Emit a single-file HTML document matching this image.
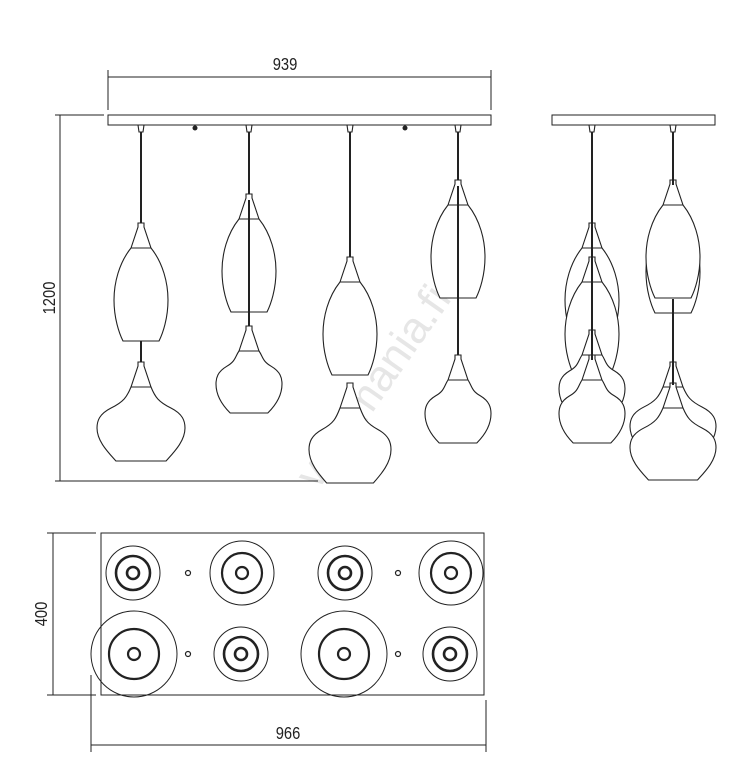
<!DOCTYPE html>
<html><head><meta charset="utf-8"><style>
html,body{margin:0;padding:0;background:#fff;}
svg{display:block;}
text{font-family:"Liberation Sans",sans-serif;fill:#222;}
</style></head><body>
<svg id="s" width="750" height="784" viewBox="0 0 750 784" xmlns="http://www.w3.org/2000/svg">
<text transform="translate(385,395) rotate(-55)" font-size="44" text-anchor="middle" style="fill:#e6e6e6">valomania.fi</text>
<g fill="none" stroke="#222" stroke-width="1">
<line x1="108" y1="77" x2="491" y2="77"/>
<line x1="108" y1="70" x2="108" y2="110"/>
<line x1="491" y1="70" x2="491" y2="110"/>
<line x1="60" y1="115" x2="60" y2="481"/>
<line x1="55" y1="115" x2="104" y2="115"/>
<line x1="55" y1="481" x2="318" y2="481"/>
<rect x="108" y="115" width="383" height="10"/>
<rect x="552" y="115" width="163" height="10"/>
<rect x="101" y="533" width="383" height="162"/>
<line x1="53" y1="533" x2="53" y2="695"/>
<line x1="47" y1="533" x2="96" y2="533"/>
<line x1="47" y1="695" x2="96" y2="695"/>
<line x1="91" y1="745" x2="486" y2="745"/>
<line x1="91" y1="675" x2="91" y2="752"/>
<line x1="486" y1="700" x2="486" y2="752"/>
</g>
<circle cx="195" cy="128" r="2.5" fill="#222"/>
<circle cx="405" cy="128" r="2.5" fill="#222"/>
<g id="p" fill="#fff" stroke="#222" stroke-width="1.1"></g>
<g id="c" fill="none" stroke="#222"></g>
<text transform="translate(285,70) scale(0.82,1)" font-size="18" text-anchor="middle">939</text>
<text transform="translate(288,739) scale(0.82,1)" font-size="18" text-anchor="middle">966</text>
<text transform="translate(55,298) rotate(-90) scale(0.82,1)" font-size="18" text-anchor="middle">1200</text>
<text transform="translate(47,614) rotate(-90) scale(0.82,1)" font-size="18" text-anchor="middle">400</text>
</svg>
<script>
var NS="http://www.w3.org/2000/svg",P=document.getElementById('p'),C=document.getElementById('c');
function el(par,t,a){var e=document.createElementNS(NS,t);for(var k in a)e.setAttribute(k,a[k]);par.appendChild(e);return e;}
function line(x1,y1,x2,y2,w){el(P,'line',{x1:x1,y1:y1,x2:x2,y2:y2,'stroke-width':w||2});}
function oval(cx,y,w){w=w||27;var s=w/27;
 var d="M"+(cx-3)+","+y+" L"+(cx+3)+","+y+" L"+(cx+3)+","+(y+4)+" L"+(cx+10)+","+(y+25)+
 " C"+(cx+22*s)+","+(y+40)+" "+(cx+w)+","+(y+60)+" "+(cx+w)+","+(y+77)+
 " C"+(cx+w)+","+(y+95)+" "+(cx+22*s)+","+(y+110)+" "+(cx+18*s)+","+(y+118)+
 " L"+(cx-18*s)+","+(y+118)+" C"+(cx-22*s)+","+(y+110)+" "+(cx-w)+","+(y+95)+" "+(cx-w)+","+(y+77)+
 " C"+(cx-w)+","+(y+60)+" "+(cx-22*s)+","+(y+40)+" "+(cx-10)+","+(y+25)+" L"+(cx-3)+","+(y+4)+" Z";
 el(P,'path',{d:d});el(P,'line',{x1:cx-10,y1:y+25,x2:cx+10,y2:y+25});}
function bowl(cx,y,w,h){var b=w*0.57,sy=h/99;
 function Y(v){return y+v*sy;}
 var d="M"+(cx-3)+","+y+" L"+(cx+3)+","+y+" L"+(cx+3)+","+(y+4)+" L"+(cx+10)+","+(y+25)+
 " C"+(cx+14)+","+Y(35)+" "+(cx+w*0.4)+","+Y(40)+" "+(cx+w*0.68)+","+Y(46)+
 " C"+(cx+w*0.95)+","+Y(52)+" "+(cx+w)+","+Y(59)+" "+(cx+w)+","+Y(66)+
 " C"+(cx+w)+","+Y(79)+" "+(cx+b+8)+","+Y(90)+" "+(cx+b)+","+Y(99)+
 " L"+(cx-b)+","+Y(99)+" C"+(cx-b-8)+","+Y(90)+" "+(cx-w)+","+Y(79)+" "+(cx-w)+","+Y(66)+
 " C"+(cx-w)+","+Y(59)+" "+(cx-w*0.95)+","+Y(52)+" "+(cx-w*0.68)+","+Y(46)+
 " C"+(cx-w*0.4)+","+Y(40)+" "+(cx-14)+","+Y(35)+" "+(cx-10)+","+(y+25)+" L"+(cx-3)+","+(y+4)+" Z";
 el(P,'path',{d:d});el(P,'line',{x1:cx-10,y1:y+25,x2:cx+10,y2:y+25});}
function cap(cx){el(P,'path',{d:"M"+(cx-3)+",125 L"+(cx+3)+",125 L"+(cx+2)+",132 L"+(cx-2)+",132 Z"});}
[141,249,350,458].forEach(cap);
line(141,132,141,223);oval(141,223);line(141,341,141,362);bowl(141,362,44,99);
line(249,132,249,200);oval(249,194);bowl(249,326,33,87);line(249,200,249,326);
line(350,132,350,257);oval(350,257);bowl(350,383,41,100);
line(458,132,458,186);oval(458,180);bowl(458,355,33,88);line(458,186,458,355);
[592,673].forEach(cap);
oval(592,223);oval(592,257);bowl(592,330,33,88);bowl(592,355,33,88);line(592,132,592,360);
oval(673,195);oval(673,180);bowl(673,362,43,97);bowl(673,383,43,97);line(673,132,673,185);line(673,299,673,385);
function triple(x,y){el(C,'circle',{cx:x,cy:y,r:27,'stroke-width':1});el(C,'circle',{cx:x,cy:y,r:17,'stroke-width':2.6});el(C,'circle',{cx:x,cy:y,r:6,'stroke-width':2.6});}
function dbl(x,y,r,m){el(C,'circle',{cx:x,cy:y,r:r,'stroke-width':1});el(C,'circle',{cx:x,cy:y,r:m,'stroke-width':2.2});el(C,'circle',{cx:x,cy:y,r:6,'stroke-width':2.2});}
triple(133,573);dbl(242,573,32,20);triple(345,573);dbl(451,573,32,20);
dbl(134,654,43,25);triple(241,654);dbl(344,654,43,25);triple(450,654);
[[188,573],[398,573],[188,654],[398,654]].forEach(function(q){el(C,'circle',{cx:q[0],cy:q[1],r:2.5,'stroke-width':1.2});});
</script>
</body></html>
